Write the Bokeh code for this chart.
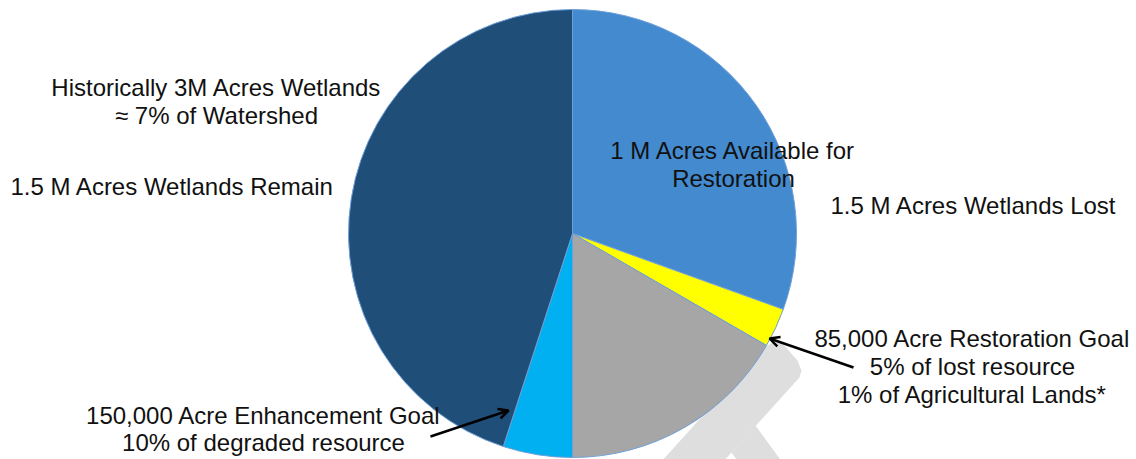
from math import pi
from bokeh.plotting import figure
from bokeh.models import Range1d, ColumnDataSource, Arrow, OpenHead
from bokeh.core.properties import value
from bokeh.embed import file_html
from bokeh.resources import INLINE

# ---- data (thousand acres), clockwise from 12 o'clock ----
slice_names = ["Available for Restoration", "Restoration Goal", "Other Lost",
               "Enhancement Goal", "Wetlands Remain"]
slice_values = [915, 85, 500, 150, 1350]
slice_colors = ["#438ACF", "#FFFF00", "#A6A6A6", "#00B0F0", "#1F4E79"]

label_center_text = ["Historically 3M Acres Wetlands", "\u2248 7% of Watershed",
                     "1 M Acres Available for", "Restoration",
                     "85,000 Acre Restoration Goal", "5% of lost resource",
                     "1% of Agricultural Lands*",
                     "150,000 Acre Enhancement Goal", "10% of degraded resource"]
label_center_x = [216, 216, 733, 733, 972, 972, 972, 263, 263]
label_center_y = [372, 344, 309, 281, 121, 93, 65, 44, 17]

label_left_text = ["1.5 M Acres Wetlands Remain", "1.5 M Acres Wetlands Lost"]
label_left_x = [10, 830]
label_left_y = [273, 254]

W, H = 1136, 459
CX, CY, R = 572, 226, 224

p = figure(width=W, height=H, output_backend="svg", toolbar_location=None,
           x_range=Range1d(0, W), y_range=Range1d(0, H), min_border=0)
p.axis.visible = False
p.grid.visible = False
p.outline_line_color = None
p.background_fill_color = "white"
p.border_fill_color = "white"

# light grey watermark shape behind the pie (screen coords -> data)
def scr(pts):
    return [x for x, y in pts], [H - y for x, y in pts]

wm1 = [(660, 462), (764, 347), (772, 342), (782, 343), (797, 360), (801, 370),
       (799, 377), (722, 462)]
wm2 = [(731, 452), (755, 425), (782, 462), (738, 462)]
xs, ys = zip(*[scr(w) for w in (wm1, wm2)])
p.patches(xs=list(xs), ys=list(ys), fill_color="#DEDEDE", line_color=None)

# pie
total = sum(slice_values)
starts, ends, acc = [], [], 0
for v in slice_values:
    starts.append(pi / 2 - acc / total * 2 * pi)
    acc += v
    ends.append(pi / 2 - acc / total * 2 * pi)
src = ColumnDataSource(dict(start=starts, end=ends, color=slice_colors,
                            name=slice_names))
p.wedge(x=CX, y=CY, radius=R, start_angle="start", end_angle="end",
        direction="clock", fill_color="color", line_color="#6F9FD8",
        line_width=1, source=src)

font = value("Liberation Sans")
p.text(x=label_center_x, y=label_center_y, text=label_center_text,
       text_font=font, text_font_size="24px", text_color="#111111",
       text_align="center", text_baseline="middle")
p.text(x=label_left_x, y=label_left_y, text=label_left_text,
       text_font=font, text_font_size="24px", text_color="#111111",
       text_align="left", text_baseline="middle")

# arrows
p.add_layout(Arrow(x_start=430, y_start=23, x_end=508, y_end=49,
                   line_width=2.5, line_color="black",
                   end=OpenHead(size=10, line_width=2.5, line_color="black")))
p.add_layout(Arrow(x_start=853, y_start=92, x_end=769, y_end=121,
                   line_width=2.5, line_color="black",
                   end=OpenHead(size=10, line_width=2.5, line_color="black")))

open("out.html", "w").write(file_html(p, INLINE))
